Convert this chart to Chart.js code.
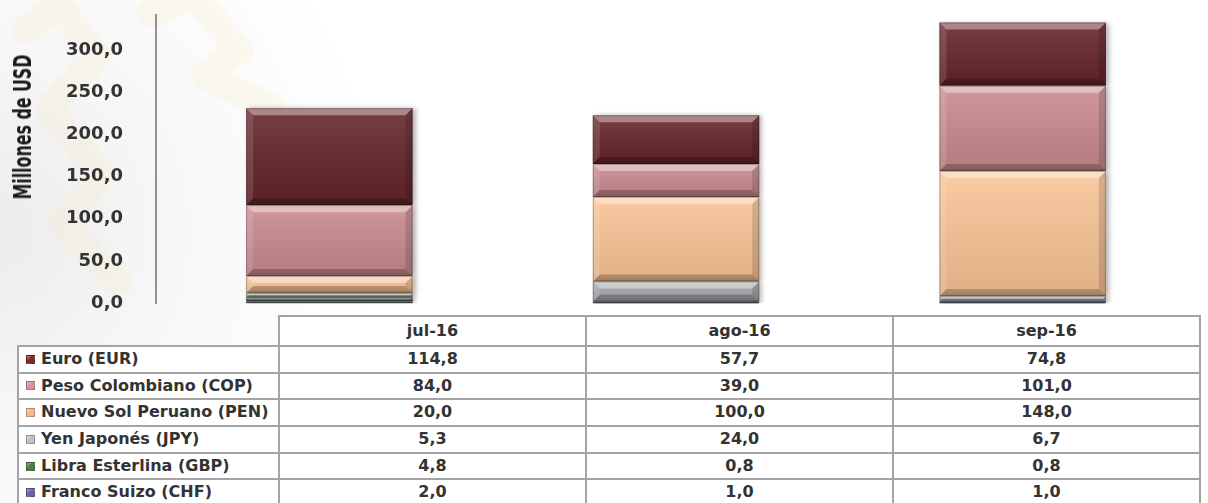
<!DOCTYPE html>
<html>
<head>
<meta charset="utf-8">
<script src="https://cdn.jsdelivr.net/npm/chart.js@4/dist/chart.umd.min.js"></script>
<style>
  html, body { margin: 0; padding: 0; }
  body {
    width: 1208px; height: 503px; overflow: hidden; position: relative;
    font-family: Verdana, "DejaVu Sans", sans-serif;
    background: radial-gradient(ellipse 380px 420px at 0px 230px, #ececec 0%, #f7f7f7 45%, #ffffff 100%);
  }
  #chart { position: absolute; left: 0; top: 0; display: block; }
  #ytitle {
    position: absolute; left: 23px; top: 127px;
    transform: translate(-50%, -50%) rotate(-90deg) scaleX(0.66);
    white-space: nowrap;
    font-family: "Liberation Sans Narrow", "DejaVu Sans", sans-serif;
    font-size: 24px; font-weight: bold; color: #1a1a1a;
  }
  .cell {
    position: absolute; box-sizing: border-box;
    border: 2px solid #a4a4a4; background: #fff;
    font-weight: bold; font-size: 16px; color: #333;
    white-space: nowrap;
  }
  .num { text-align: center; }
  .lab { padding-left: 22px; }
  .sw {
    position: absolute; left: 7px; width: 9px; height: 9px;
    box-sizing: border-box; border: 1px solid rgba(0,0,0,0.25);
  }
</style>
</head>
<body>
<canvas id="chart" width="1208" height="400"></canvas>
<div id="ytitle">Millones de USD</div>
<div id="table"></div>
<script>
// --- data ---
const categories = ['jul-16', 'ago-16', 'sep-16'];
const eur = [114.8, 57.7, 74.8];
const cop = [84.0, 39.0, 101.0];
const pen = [20.0, 100.0, 148.0];
const jpy = [5.3, 24.0, 6.7];
const gbp = [4.8, 0.8, 0.8];
const chf = [2.0, 1.0, 1.0];
const yTicks = [0, 50, 100, 150, 200, 250, 300];

// series listed top row first (as in the table); stacking goes the other way
const series = [
  { label: 'Euro (EUR)', data: eur, color: '#65252a', swatch: '#7e2a2f' },
  { label: 'Peso Colombiano (COP)', data: cop, color: '#c98a8f', swatch: '#d4939a' },
  { label: 'Nuevo Sol Peruano (PEN)', data: pen, color: '#fac496', swatch: '#f3b88b' },
  { label: 'Yen Japonés (JPY)', data: jpy, color: '#a5a7ac', swatch: '#bfc0c6' },
  { label: 'Libra Esterlina (GBP)', data: gbp, color: '#4e6b3c', swatch: '#4c7d3e' },
  { label: 'Franco Suizo (CHF)', data: chf, color: '#5f5785', swatch: '#6f62a2' }
];

const fmt = v => v.toFixed(1).replace('.', ',');

// plot frame wanted on the page
const PLOT_TOP = 15, PLOT_BOTTOM = 303;

// --- faint logo watermark (drawn in page coords) ---
const watermark = {
  id: 'watermark',
  beforeDraw(chart) {
    const ctx = chart.ctx;
    const dy = -chart._pageTop || 0;
    ctx.save();
    ctx.translate(0, dy);
    ctx.lineJoin = 'round';
    ctx.lineCap = 'round';
    ctx.lineWidth = 28;
    ctx.strokeStyle = 'rgba(250, 228, 170, 0.14)';
    const zig = (pts) => {
      ctx.beginPath();
      pts.forEach((p, i) => i ? ctx.lineTo(p[0], p[1]) : ctx.moveTo(p[0], p[1]));
      ctx.stroke();
    };
    zig([[25, 30], [58, 6], [98, 55], [48, 110], [102, 175], [62, 222], [118, 282]]);
    zig([[150, 14], [192, -4], [240, 50], [205, 76], [272, 108]]);
    ctx.restore();
  }
};

// --- bevel look on each bar segment ---
const bevel = {
  id: 'bevel',
  beforeDatasetsDraw(chart) {
    const ctx = chart.ctx;
    ctx.save();
    ctx.shadowColor = 'rgba(0,0,0,0.3)';
    ctx.shadowBlur = 5;
    ctx.shadowOffsetX = 3;
    ctx.shadowOffsetY = 0;
  },
  afterDatasetsDraw(chart) {
    const ctx = chart.ctx;
    ctx.restore();
    ctx.save();
    chart.data.datasets.forEach((ds, i) => {
      chart.getDatasetMeta(i).data.forEach(bar => {
        const { x, y, base, width } = bar.getProps(['x', 'y', 'base', 'width'], true);
        const l = x - width / 2, r = x + width / 2;
        const t = Math.min(y, base), b = Math.max(y, base);
        const h = b - t;
        if (h <= 0) return;
        const d = Math.min(7, h / 2);
        const g = ctx.createLinearGradient(0, t, 0, b);
        g.addColorStop(0, 'rgba(255,255,255,0.12)');
        g.addColorStop(1, 'rgba(0,0,0,0.10)');
        ctx.fillStyle = g;
        ctx.fillRect(l, t, width, h);
        const quad = (pts, fill) => {
          ctx.beginPath();
          pts.forEach((p, k) => k ? ctx.lineTo(p[0], p[1]) : ctx.moveTo(p[0], p[1]));
          ctx.closePath();
          ctx.fillStyle = fill;
          ctx.fill();
        };
        quad([[l, t], [r, t], [r - d, t + d], [l + d, t + d]], 'rgba(255,255,255,0.38)');
        quad([[l, b], [r, b], [r - d, b - d], [l + d, b - d]], 'rgba(0,0,0,0.22)');
        quad([[l, t], [l + d, t + d], [l + d, b - d], [l, b]], 'rgba(255,255,255,0.12)');
        quad([[r, t], [r - d, t + d], [r - d, b - d], [r, b]], 'rgba(0,0,0,0.14)');
        ctx.strokeStyle = 'rgba(0,0,0,0.25)';
        ctx.lineWidth = 1;
        ctx.strokeRect(l + 0.5, t + 0.5, width - 1, Math.max(h - 1, 0));
      });
    });
    ctx.restore();
  }
};

function makeConfig() {
  return {
    type: 'bar',
    data: {
      labels: categories,
      datasets: series.slice().reverse().map(s => ({
        label: s.label,
        data: s.data,
        backgroundColor: s.color,
        borderWidth: 0,
        barPercentage: 0.48,
        categoryPercentage: 1
      }))
    },
    plugins: [watermark, bevel],
    options: {
      responsive: false,
      animation: false,
      layout: { padding: { top: 0, bottom: 0, left: 0, right: 12 } },
      plugins: { legend: { display: false }, tooltip: { enabled: false } },
      scales: {
        x: { stacked: true, display: false },
        y: {
          stacked: true,
          min: 0,
          max: 341.5,
          grid: { display: false },
          border: { display: true, color: '#939393', width: 2 },
          afterFit: s => { s.width = 156; },
          ticks: {
            stepSize: 50,
            includeBounds: false,
            padding: 25,
            color: '#333',
            font: { family: 'Verdana, "DejaVu Sans", sans-serif', size: 18, weight: 'bold' },
            callback: v => yTicks.includes(v) ? fmt(v) : ''
          }
        }
      }
    }
  };
}

// build once, measure the plot area, then size and shift the canvas so the
// plot frame lands on PLOT_TOP..PLOT_BOTTOM
const canvas = document.getElementById('chart');
let chart = new Chart(canvas.getContext('2d'), makeConfig());
const ca0 = chart.chartArea;
const newH = Math.round(canvas.height + (PLOT_BOTTOM - PLOT_TOP) - (ca0.bottom - ca0.top));
chart.destroy();
canvas.width = 1208;
canvas.height = newH;
canvas.style.width = '1208px';
canvas.style.height = newH + 'px';
chart = new Chart(canvas.getContext('2d'), makeConfig());
const shift = PLOT_TOP - chart.chartArea.top;
canvas.style.top = shift + 'px';
chart._pageTop = shift;
chart.draw();

// --- data table under the chart ---
const table = document.getElementById('table');
const colX = [18, 279, 586, 893, 1200];
const headTop = 316, rowTop = 346, rowH = 26.67;

function cell(x0, x1, y0, y1, cls, html) {
  const c = document.createElement('div');
  c.className = 'cell ' + cls;
  c.style.left = (x0 - 1) + 'px';
  c.style.top = (y0 - 1) + 'px';
  c.style.width = (x1 - x0 + 2) + 'px';
  c.style.height = (y1 - y0 + 2) + 'px';
  c.style.lineHeight = (y1 - y0 - 2) + 'px';
  c.innerHTML = html;
  table.appendChild(c);
  return c;
}

categories.forEach((cat, j) => cell(colX[j + 1], colX[j + 2], headTop, rowTop, 'num', cat));

series.forEach((s, i) => {
  const y0 = rowTop + i * rowH, y1 = y0 + rowH;
  const c = cell(colX[0], colX[1], y0, y1, 'lab', s.label);
  const sw = document.createElement('div');
  sw.className = 'sw';
  sw.style.top = ((y1 - y0 - 9) / 2 - 1) + 'px';
  sw.style.background = `linear-gradient(135deg, rgba(255,255,255,0.45), rgba(255,255,255,0) 45%), ${s.swatch}`;
  c.appendChild(sw);
  s.data.forEach((v, j) => cell(colX[j + 1], colX[j + 2], y0, y1, 'num', fmt(v)));
});
</script>
</body>
</html>
